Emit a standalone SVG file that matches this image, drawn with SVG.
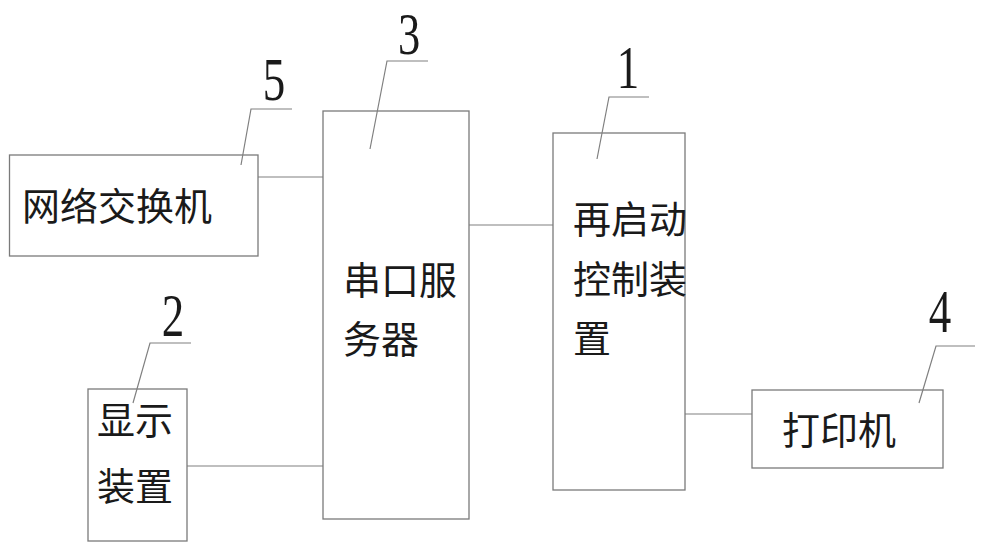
<svg xmlns="http://www.w3.org/2000/svg" width="1000" height="549" viewBox="0 0 1000 549">
<style>
.box{fill:#fff;stroke:#7a7a7a;stroke-width:1.3}
.ln{fill:none;stroke:#808080;stroke-width:1.2}
.cn{font-family:"Noto Sans CJK SC","Noto Sans CJK JP",sans-serif;font-size:38px;fill:#1a1a1a}
.num{font-family:"Liberation Serif","DejaVu Serif",serif;font-size:60px;fill:#1a1a1a;text-anchor:middle}
</style>
<rect width="1000" height="549" fill="#fff"/>
<g id="connectors">
<line class="ln" x1="258" y1="177" x2="323" y2="177"/>
<line class="ln" x1="187" y1="466" x2="323" y2="466"/>
<line class="ln" x1="469" y1="225" x2="553" y2="225"/>
<line class="ln" x1="685" y1="414" x2="752" y2="414"/>
</g>
<g id="node5">
<rect class="box" x="9.5" y="155" width="248.5" height="101"/>
<text class="cn" x="22" y="220">网络交换机</text>
<polyline class="ln" points="241,165 251,109 292,109"/>
<text class="num" transform="translate(274,100) scale(0.75,1.03)">5</text>
</g>
<g id="node3">
<rect class="box" x="323" y="111" width="146" height="408"/>
<text class="cn" x="343" y="294">串口服</text>
<text class="cn" x="343" y="353">务器</text>
<polyline class="ln" points="370,149 387,61 428,61"/>
<text class="num" style="font-size:57px" transform="translate(409,54) scale(0.78,1.04)">3</text>
</g>
<g id="node2">
<rect class="box" x="88" y="389" width="99" height="152"/>
<text class="cn" x="97" y="434">显示</text>
<text class="cn" x="97" y="500">装置</text>
<polyline class="ln" points="133,403 150,343 191,343"/>
<text class="num" transform="translate(173,336) scale(0.75,1.03)">2</text>
</g>
<g id="node1">
<rect class="box" x="553" y="133" width="132" height="357"/>
<text class="cn" x="573" y="233">再启动</text>
<text class="cn" x="573" y="293">控制装</text>
<text class="cn" x="573" y="352">置</text>
<polyline class="ln" points="597,159 609,97 649,97"/>
<text class="num" transform="translate(628,88) scale(0.75,1.03)">1</text>
</g>
<g id="node4">
<rect class="box" x="752" y="390" width="191" height="78"/>
<text class="cn" x="782" y="444">打印机</text>
<polyline class="ln" points="919,403 936,346 975,346"/>
<text class="num" transform="translate(940,332) scale(0.75,1.03)">4</text>
</g>
</svg>
